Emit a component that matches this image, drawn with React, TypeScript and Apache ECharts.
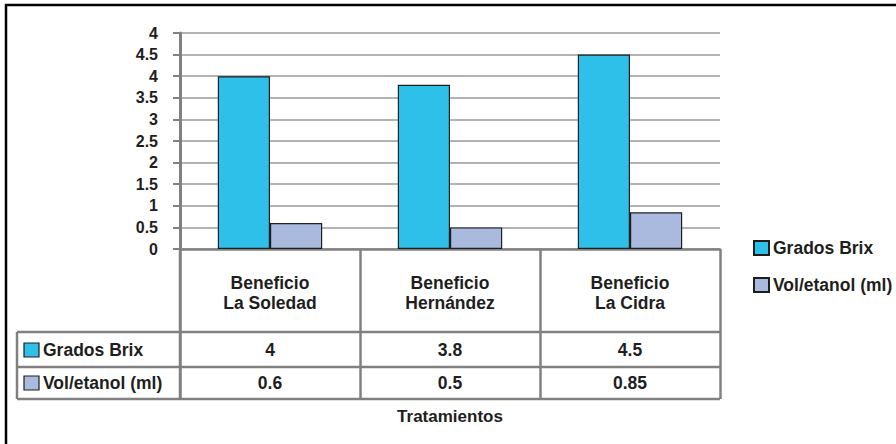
import React, { useEffect, useRef } from "react";
import * as echarts from "echarts";

const categories = ["Beneficio\nLa Soledad", "Beneficio\nHernández", "Beneficio\nLa Cidra"];
const seriesNames = ["Grados Brix", "Vol/etanol (ml)"];
const gradosBrix = [4, 3.8, 4.5];
const volEtanol = [0.6, 0.5, 0.85];
const tableLabels = ["4", "3.8", "4.5"];
const tableLabelsVol = ["0.6", "0.5", "0.85"];
const yTickLabels = ["0", "0.5", "1", "1.5", "2", "2.5", "3", "3.5", "4", "4.5", "4"];

const BLUE = "#2ec0e8";
const LILAC = "#aab9de";
const GRID_GRAY = "#9a9a9a";
const AXIS_GRAY = "#808080";
const TEXT = "#1e1e1e";
const FONT = "'Liberation Sans', Arial, sans-serif";

export default function App() {
  const ref = useRef<HTMLDivElement>(null);

  useEffect(() => {
    if (!ref.current) return;
    const chart = echarts.init(ref.current, null, { renderer: "svg" });

    const gridLeft = 180;
    const gridRight = 176;
    const gridTop = 33;
    const gridBottom = 195;

    chart.setOption({
      animation: false,
      backgroundColor: "#ffffff",
      textStyle: { fontFamily: FONT },
      grid: { left: gridLeft, right: gridRight, top: gridTop, bottom: gridBottom, containLabel: false },
      legend: {
        orient: "vertical",
        left: 753,
        top: 239,
        padding: 0,
        itemWidth: 15,
        itemHeight: 14,
        itemGap: 19,
        icon: "rect",
        textStyle: { fontFamily: FONT, fontWeight: "bold", fontSize: 17.5, color: TEXT, padding: [0, 0, 0, -1] },
        data: seriesNames,
      },
      xAxis: {
        type: "category",
        data: categories,
        axisLine: { lineStyle: { color: AXIS_GRAY, width: 2.5 } },
        axisTick: { show: true, length: 150, interval: 0, lineStyle: { color: AXIS_GRAY, width: 2.5 } },
        axisLabel: {
          interval: 0,
          margin: 24,
          fontFamily: FONT,
          fontWeight: "bold",
          fontSize: 17.5,
          lineHeight: 20,
          color: TEXT,
          align: "center",
        },
        name: "Tratamientos",
        nameLocation: "middle",
        nameGap: 159,
        nameTextStyle: { fontFamily: FONT, fontWeight: "bold", fontSize: 17, color: TEXT },
      },
      yAxis: {
        type: "value",
        min: 0,
        max: 5,
        interval: 0.5,
        axisLine: { show: true, lineStyle: { color: AXIS_GRAY, width: 3 } },
        axisTick: { show: true, length: 7, lineStyle: { color: AXIS_GRAY, width: 2 } },
        splitLine: { lineStyle: { color: GRID_GRAY, width: 1.6 } },
        axisLabel: {
          margin: 22,
          fontFamily: FONT,
          fontWeight: "bold",
          fontSize: 16,
          color: TEXT,
          formatter: (v: number) => yTickLabels[Math.round(v / 0.5)] ?? "",
        },
      },
      series: [
        {
          name: seriesNames[0],
          type: "bar",
          data: gradosBrix,
          barGap: "0%",
          barCategoryGap: "42%",
          itemStyle: { color: BLUE, borderColor: "#1e1e1e", borderWidth: 1.2 },
        },
        {
          name: seriesNames[1],
          type: "bar",
          data: volEtanol,
          barGap: "0%",
          barCategoryGap: "42%",
          itemStyle: { color: LILAC, borderColor: "#1e1e1e", borderWidth: 1.2 },
        },
      ],
    });

    // Data table under the axis, laid out from the grid's pixel positions
    const zeroY = chart.convertToPixel({ yAxisIndex: 0 }, 0) as number;
    const plotRight = 896 - gridRight;
    const tableLeft = 17;
    const rowLines = [332, 367, 399];
    const rowCenters = [350, 383];
    const lineStyle = { stroke: AXIS_GRAY, lineWidth: 2.5 };

    const graphics: any[] = [];
    // outer frame (top and left edges)
    graphics.push({ type: "line", shape: { x1: 5, y1: 5, x2: 896, y2: 5 }, style: { stroke: "#000", lineWidth: 2.5 } });
    graphics.push({ type: "line", shape: { x1: 6, y1: 4, x2: 6, y2: 444 }, style: { stroke: "#000", lineWidth: 2.5 } });

    rowLines.forEach((y) => {
      graphics.push({ type: "line", shape: { x1: tableLeft, y1: y, x2: plotRight, y2: y }, style: lineStyle });
    });
    graphics.push({
      type: "line",
      shape: { x1: tableLeft, y1: rowLines[0], x2: tableLeft, y2: rowLines[2] },
      style: lineStyle,
    });
    graphics.push({
      type: "line",
      shape: { x1: gridLeft, y1: zeroY, x2: gridLeft, y2: rowLines[2] },
      style: lineStyle,
    });

    const rowColors = [BLUE, LILAC];
    const rowValues = [tableLabels, tableLabelsVol];
    rowCenters.forEach((cy, r) => {
      graphics.push({
        type: "rect",
        shape: { x: 24, y: cy - 7, width: 15, height: 14 },
        style: { fill: rowColors[r], stroke: "#1e1e1e", lineWidth: 1.2 },
      });
      graphics.push({
        type: "text",
        x: 43,
        y: cy,
        style: {
          text: seriesNames[r],
          font: `bold 17.5px ${FONT}`,
          fill: TEXT,
          textAlign: "left",
          textVerticalAlign: "middle",
        },
      });
      rowValues[r].forEach((txt, i) => {
        const cx = chart.convertToPixel({ xAxisIndex: 0 }, categories[i]) as number;
        graphics.push({
          type: "text",
          x: cx,
          y: cy,
          style: {
            text: txt,
            font: `bold 17.5px ${FONT}`,
            fill: TEXT,
            textAlign: "center",
            textVerticalAlign: "middle",
          },
        });
      });
    });

    chart.setOption({ graphic: graphics });

    return () => chart.dispose();
  }, []);

  return (
    <div
      ref={ref}
      style={{ position: "fixed", left: 0, top: 0, width: 896, height: 444, background: "#fff" }}
    />
  );
}
